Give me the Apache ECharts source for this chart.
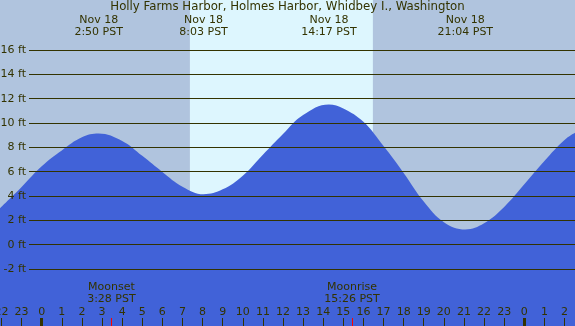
<!DOCTYPE html>
<html lang="en">
<head>
    <meta charset="UTF-8">
    <title>Tide chart</title>
    <script src="https://cdn.jsdelivr.net/npm/echarts@6/dist/echarts.min.js"></script>
    <style>
        html, body { margin: 0; padding: 0; }
        #render-target { width: 575px; height: 326px; }
    </style>
</head>
<body>
    <div id="render-target"></div>
    <script>
        const titleText = "Holly Farms Harbor, Holmes Harbor, Whidbey I., Washington"

        // hours counted from Nov 18 00:00 PST
        const viewStart = -2.074
        const viewEnd = 26.522

        // tide height, roughly hourly
        const tideHours = [-2.074, -1, 0, 1, 2, 2.83, 4, 5, 6, 7, 8.05, 9, 10, 11, 12, 13, 14.28, 15, 16, 17, 18, 19, 20, 21.07, 22, 23, 24, 25, 26, 26.522]
        const tideFeet = [3.0, 4.75, 6.45, 7.75, 8.82, 9.13, 8.52, 7.3, 5.98, 4.77, 4.15, 4.55, 5.67, 7.39, 9.1, 10.66, 11.53, 11.2, 10.1, 8.1, 5.9, 3.55, 1.85, 1.25, 1.76, 3.1, 4.96, 6.88, 8.6, 9.19]

        const extremeHours = [2.833, 8.05, 14.283, 21.067]
        const extremeDates = ["Nov 18", "Nov 18", "Nov 18", "Nov 18"]
        const extremeTimes = ["2:50 PST", "8:03 PST", "14:17 PST", "21:04 PST"]

        const sunrise = 7.37
        const sunset = 16.47

        const moonHours = [3.467, 15.433]
        const moonNames = ["Moonset", "Moonrise"]
        const moonTimes = ["3:28 PST", "15:26 PST"]

        const hourTicks = [-2, -1, 0, 1, 2, 3, 4, 5, 6, 7, 8, 9, 10, 11, 12, 13, 14, 15, 16, 17, 18, 19, 20, 21, 22, 23, 24, 25, 26]
        const midnightTicks = [0, 24]
        const feetMin = -2
        const feetMax = 16

        const nightColor = "#b0c4de"
        const dayColor = "#ddf6fe"
        const waterColor = "#4162d8"
        const ink = "#333300"
        const font = "DejaVu Sans"

        // the ft grid sits inside the full-canvas grid, same scale
        const ftTop = 50, ftBottom = 57, ftLeft = 29
        const pxPerFt = (326 - ftTop - ftBottom) / (feetMax - feetMin)
        const fullMin = feetMin - ftBottom / pxPerFt
        const fullMax = feetMax + ftTop / pxPerFt

        const hourAxis = (extra) => Object.assign({
            gridIndex: 0,
            type: "value",
            min: viewStart,
            max: viewEnd,
            position: "bottom",
            offset: 0,
            z: 5,
            axisLine: { show: false, onZero: false },
            splitLine: { show: false },
        }, extra)

        const option = {
            animation: false,
            title: {
                text: titleText,
                left: "center",
                top: 1,
                padding: [0, 0, 0, 0],
                textStyle: { fontFamily: font, fontSize: 11.75, fontWeight: "normal", color: ink },
            },
            grid: [
                { left: 0, right: 0, top: 0, bottom: 0, show: true, backgroundColor: nightColor, borderWidth: 0, outerBoundsMode: "none", containLabel: false },
                { left: ftLeft, right: 0, top: ftTop, bottom: ftBottom, outerBoundsMode: "none", containLabel: false },
            ],
            xAxis: [
                hourAxis({
                    axisTick: { inside: true, length: 8, customValues: hourTicks, lineStyle: { color: ink, width: 1 } },
                    axisLabel: {
                        inside: true, margin: 8, customValues: hourTicks,
                        color: ink, fontFamily: font, fontSize: 11,
                        formatter: v => String(((Math.round(v) % 24) + 24) % 24),
                    },
                }),
                hourAxis({
                    axisTick: { inside: true, length: 8, customValues: midnightTicks, lineStyle: { color: ink, width: 3 } },
                    axisLabel: { show: false },
                }),
                hourAxis({
                    axisTick: { inside: true, length: 8, customValues: moonHours, lineStyle: { color: "#ff0000", width: 1 } },
                    axisLabel: {
                        inside: true, margin: 21, customValues: moonHours,
                        color: ink, fontFamily: font, fontSize: 11, lineHeight: 12,
                        formatter: v => {
                            const i = moonHours.indexOf(v)
                            return moonNames[i] + "\n" + moonTimes[i]
                        },
                    },
                }),
                hourAxis({
                    position: "top",
                    axisTick: { show: false },
                    axisLabel: {
                        inside: true, margin: 14, customValues: extremeHours,
                        color: ink, fontFamily: font, fontSize: 11, lineHeight: 12,
                        formatter: v => {
                            const i = extremeHours.indexOf(v)
                            return extremeDates[i] + "\n" + extremeTimes[i]
                        },
                    },
                }),
                { gridIndex: 1, type: "value", min: viewStart, max: viewEnd, show: false },
            ],
            yAxis: [
                { gridIndex: 0, type: "value", min: fullMin, max: fullMax, show: false },
                {
                    gridIndex: 1, type: "value", min: feetMin, max: feetMax, interval: 2, z: 5,
                    axisLine: { show: false },
                    axisTick: { show: false },
                    splitLine: { show: true, lineStyle: { color: ink, width: 1 } },
                    axisLabel: { margin: 3, color: ink, fontFamily: font, fontSize: 11, formatter: "{value} ft" },
                },
            ],
            series: [
                {
                    name: "daylight",
                    type: "line",
                    xAxisIndex: 0, yAxisIndex: 0,
                    data: [],
                    z: 1,
                    markArea: {
                        silent: true,
                        itemStyle: { color: dayColor },
                        data: [[{ xAxis: sunrise }, { xAxis: sunset }]],
                    },
                },
                {
                    name: "tide",
                    type: "line",
                    xAxisIndex: 0, yAxisIndex: 0,
                    data: tideHours.map((h, i) => [h, tideFeet[i]]),
                    smooth: 0.4,
                    showSymbol: false,
                    lineStyle: { width: 0 },
                    areaStyle: { color: waterColor, opacity: 1, origin: "start" },
                    z: 2,
                },
            ],
        }

        const chart = echarts.init(document.querySelector("#render-target"))
        chart.setOption(option)
    </script>
</body>
</html>
